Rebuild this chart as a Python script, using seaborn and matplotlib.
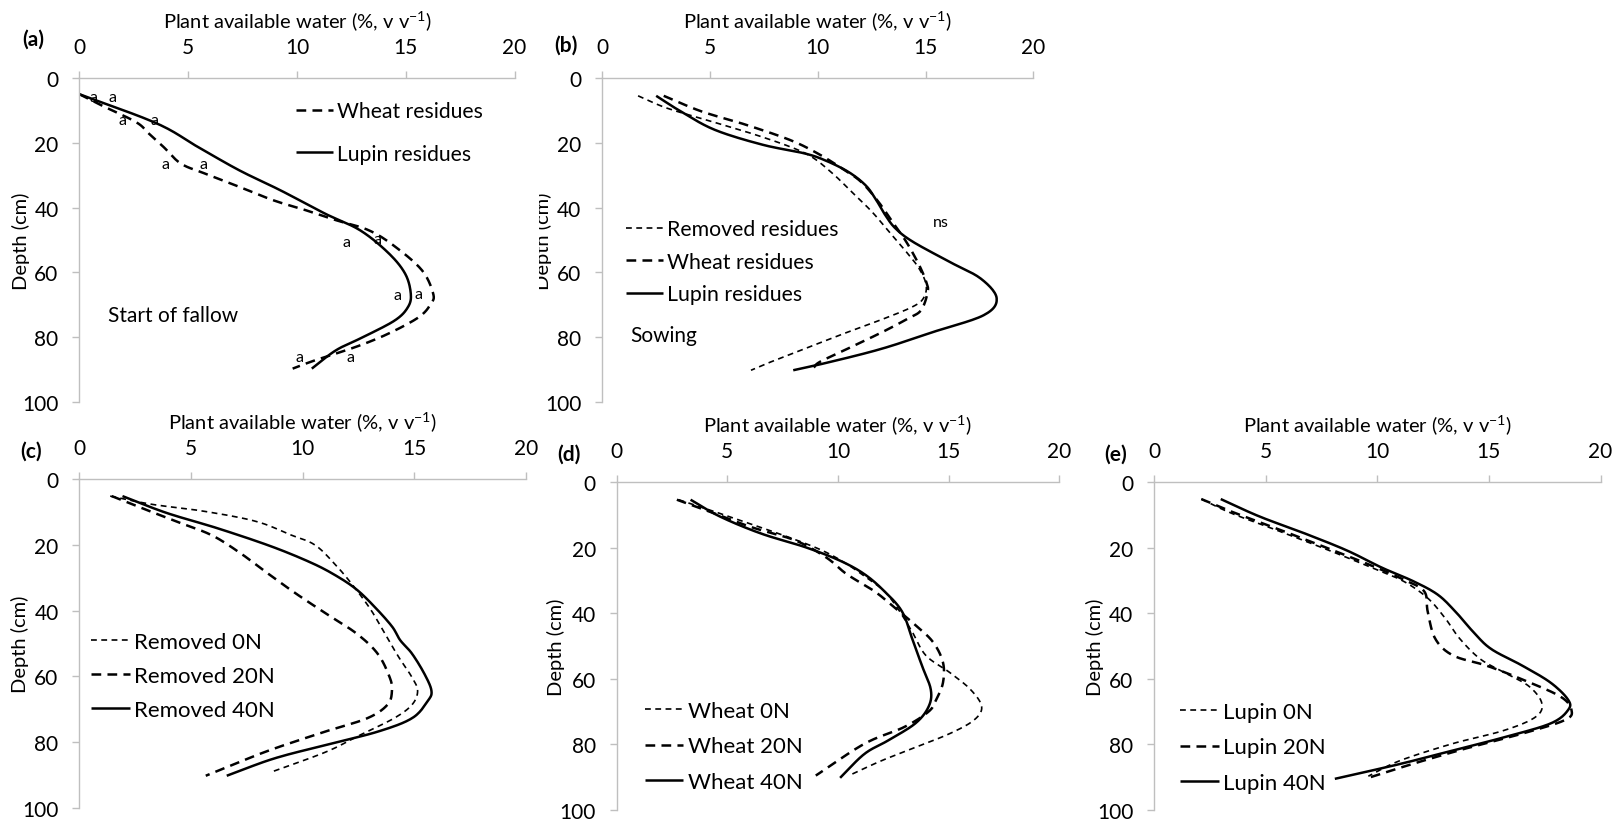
import numpy as np
import matplotlib
matplotlib.use("Agg")
import matplotlib.pyplot as plt
from matplotlib.transforms import Bbox
import seaborn as sns

# ---------------------------------------------------------------------------
# Plant available water (%, v/v) by soil depth (cm)
# ---------------------------------------------------------------------------

# (a) Start of fallow
a_wheat_depth = [5, 8.4, 13.6, 17.2, 21.3, 26.4, 29.5, 33.6, 37.8, 40.8, 43.9, 47, 52, 59.4, 66.6, 69.7, 73.8, 78.9, 83, 87.1, 89.7]
a_wheat_paw = [0.0, 1.0, 2.6, 3.2, 3.87, 4.66, 5.77, 7.35, 8.94, 10.4, 11.8, 13.3, 14.5, 15.75, 16.26, 16.15, 15.6, 14.2, 12.7, 10.84, 9.8]
a_lupin_depth = [5, 14, 21.3, 28.5, 34.7, 41.9, 47, 54, 60.4, 66.6, 70.7, 74.8, 79.9, 84, 89.7]
a_lupin_paw = [0.0, 3.55, 5.45, 7.35, 9.25, 11.3, 12.9, 14.2, 14.97, 15.23, 15.1, 14.5, 13.06, 11.8, 10.68]
a_sig_labels = ["a"] * 12
a_sig_paw = [0.67, 1.52, 2.0, 3.47, 3.95, 5.69, 12.27, 13.7, 14.6, 15.6, 10.1, 12.45]
a_sig_depth = [5.9, 5.9, 13, 13, 26.4, 26.4, 50.6, 49.6, 67, 66.6, 86, 86]

# (b) Sowing
b_removed_depth = [5.5, 9.3, 13.4, 17.5, 21.6, 24.7, 29.9, 35, 41.2, 47.4, 53.6, 58.8, 63.9, 68, 70.6, 74.2, 78.4, 82.5, 86.6, 90.2]
b_removed_paw = [1.66, 3.0, 5.06, 7.1, 8.86, 9.8, 10.76, 11.55, 12.5, 13.3, 14.1, 14.7, 15.03, 14.9, 14.4, 13.1, 11.4, 9.8, 8.2, 6.9]
b_wheat_depth = [5.5, 10.3, 14.4, 19.1, 23.2, 27.8, 32, 38.1, 44.3, 50.5, 57.7, 62.9, 66, 71.6, 74.2, 78.4, 83.5, 87.6, 89.5]
b_wheat_paw = [2.85, 4.6, 6.65, 8.7, 9.97, 11.1, 12.0, 12.8, 13.45, 14.1, 14.7, 15.03, 15.1, 14.8, 14.2, 13.0, 11.4, 10.1, 9.8]
b_lupin_depth = [5.5, 10.3, 16, 20.6, 23.2, 25.3, 28.9, 33, 37.1, 42.3, 46.4, 50.5, 56.7, 61.9, 68, 73.2, 78.4, 83.5, 87.6, 90.2]
b_lupin_paw = [2.5, 3.64, 5.22, 7.44, 9.34, 10.3, 11.4, 12.2, 12.66, 13.13, 13.6, 14.4, 16.1, 17.56, 18.3, 17.7, 15.35, 13.0, 10.6, 8.86]

# (c) Removed residues, three N rates
c_0n_depth = [5.2, 7.7, 9.8, 12.9, 17, 20.1, 26.3, 32.5, 39.7, 46.9, 54.1, 60.3, 64.4, 68.6, 72.7, 77.8, 83, 89.2]
c_0n_paw = [1.38, 3.25, 5.58, 7.92, 9.47, 10.56, 11.5, 12.27, 13.05, 13.67, 14.3, 14.9, 15.15, 14.9, 14.1, 12.58, 11.03, 8.54]
c_20n_depth = [5.2, 8.8, 12.9, 17, 22.2, 28.4, 34.5, 40.7, 46.9, 53.1, 60.3, 64.4, 68.6, 72.7, 76.8, 82, 86.1, 90.2]
c_20n_paw = [1.45, 2.78, 4.34, 5.9, 7.14, 8.38, 9.63, 11.0, 12.4, 13.36, 13.9, 14.0, 13.8, 12.9, 11.0, 8.7, 7.14, 5.66]
c_40n_depth = [5.2, 10.3, 15, 20.5, 25.5, 29.4, 33.5, 38.7, 44.8, 49, 53.1, 59.3, 64.4, 67.5, 72.7, 76.8, 80.9, 85, 90.2]
c_40n_paw = [1.93, 3.9, 6.2, 8.6, 10.4, 11.5, 12.4, 13.2, 14.0, 14.37, 14.9, 15.46, 15.77, 15.6, 14.9, 13.36, 11.0, 8.7, 6.6]

# (d) Wheat residues, three N rates
d_0n_depth = [5.4, 8.5, 12.1, 16.8, 20.9, 25, 29.2, 33.3, 38.5, 45.7, 52.9, 58.1, 63.3, 68.5, 72.6, 76.7, 80.9, 85, 89.5]
d_0n_paw = [2.8, 4.19, 5.75, 7.76, 9.3, 10.4, 11.3, 12.1, 12.7, 13.36, 13.98, 15.06, 16.0, 16.5, 16.15, 15.06, 13.5, 11.96, 10.5]
d_20n_depth = [5.4, 9, 13.7, 17.8, 23, 28.1, 33.3, 38.5, 43.6, 48.8, 55, 61.2, 66.4, 70, 74.7, 79.8, 89.5]
d_20n_paw = [2.72, 4.19, 6.06, 8.07, 9.47, 10.4, 11.65, 12.6, 13.5, 14.3, 14.75, 14.75, 14.44, 14.1, 13.0, 11.2, 9.0]
d_40n_depth = [5.4, 10.5, 15.7, 19.9, 24, 28.1, 33.3, 39.5, 47.8, 56, 63.3, 68.5, 73.6, 78.8, 82.9, 90.2]
d_40n_paw = [3.34, 4.66, 6.52, 8.54, 10.1, 11.2, 12.1, 12.9, 13.36, 13.8, 14.2, 14.1, 13.5, 12.27, 11.2, 10.1]

# (e) Lupin residues, three N rates
e_0n_depth = [5.2, 9.5, 14.7, 20.9, 26.1, 30.2, 35.4, 41.6, 47.8, 54, 58.1, 62.3, 67.4, 71.6, 75.7, 79.8, 85, 89.7]
e_0n_paw = [2.12, 3.46, 5.5, 7.86, 9.75, 11.16, 12.26, 13.05, 13.7, 14.62, 15.7, 16.8, 17.37, 17.1, 15.7, 13.36, 11.0, 9.6]
e_20n_depth = [5.2, 9, 14.2, 20.4, 25.5, 29.7, 33.3, 39.5, 47.8, 52.9, 56, 60.2, 65.4, 69.5, 72.6, 76.7, 80.9, 85.5, 90.2]
e_20n_paw = [2.12, 3.46, 5.5, 7.86, 9.75, 11.16, 12.1, 12.26, 12.6, 13.4, 14.9, 16.5, 18.2, 18.7, 18.4, 16.5, 14.15, 11.8, 9.6]
e_40n_depth = [5.2, 10.5, 15.7, 20.9, 26.1, 30.2, 34.3, 39.5, 45.7, 50.9, 56, 61.2, 66.4, 69.5, 73.6, 77.8, 81.9, 86, 90.5]
e_40n_paw = [2.99, 4.72, 6.76, 8.65, 10.2, 11.6, 12.7, 13.5, 14.3, 15.1, 16.5, 17.77, 18.55, 18.55, 17.77, 15.7, 13.36, 11.0, 8.1]

x_ticks = [0, 5, 10, 15, 20]
y_ticks = [0, 20, 40, 60, 80, 100]
x_title = r"Plant available water (%, v v$^{-1}$)"
y_title = "Depth (cm)"

# ---------------------------------------------------------------------------
sns.set_theme(style="white")
plt.rcParams["font.family"] = ["Lato", "DejaVu Sans"]
plt.rcParams["mathtext.fontset"] = "custom"
plt.rcParams["mathtext.rm"] = "Lato"
plt.rcParams["mathtext.default"] = "regular"
plt.rcParams["lines.scale_dashes"] = False

AXIS_GREY = "#bfbfbf"
STYLES = {
    "solid": dict(lw=1.8, dashes=None),
    "long": dict(lw=1.8, dashes=(7.0, 4.5)),
    "short": dict(lw=1.2, dashes=(4.2, 3.2)),
}


def smooth_path(paw, depth, steps=14):
    """Catmull-Rom spline through the measured points (smoothed line)."""
    pts = np.column_stack([paw, depth]).astype(float)
    p = np.vstack([2 * pts[0] - pts[1], pts, 2 * pts[-1] - pts[-2]])
    t = np.linspace(0, 1, steps, endpoint=False)[:, None]
    segs = []
    for i in range(1, len(p) - 2):
        p0, p1, p2, p3 = p[i - 1], p[i], p[i + 1], p[i + 2]
        segs.append(0.5 * (2 * p1 + (-p0 + p2) * t
                           + (2 * p0 - 5 * p1 + 4 * p2 - p3) * t ** 2
                           + (-p0 + 3 * p1 - 3 * p2 + p3) * t ** 3))
    segs.append(pts[-1:])
    out = np.vstack(segs)
    return out[:, 0], out[:, 1]


def draw_profile(ax, paw, depth, style, label):
    xs, ys = smooth_path(paw, depth)
    sns.lineplot(x=xs, y=ys, ax=ax, sort=False, estimator=None,
                 color="black", linewidth=STYLES[style]["lw"])
    line = ax.lines[-1]
    if STYLES[style]["dashes"] is not None:
        line.set_dashes(STYLES[style]["dashes"])
    line.set_label(label)
    line.set_solid_capstyle("butt")
    line.set_dash_capstyle("butt")
    return line


def style_axes(ax, ylabel_x):
    ax.set_xlim(0, 20)
    ax.set_ylim(100, 0)
    ax.set_xticks(x_ticks)
    ax.set_yticks(y_ticks)
    ax.xaxis.tick_top()
    ax.xaxis.set_label_position("top")
    for side in ("right", "bottom"):
        ax.spines[side].set_visible(False)
    for side in ("left", "top"):
        ax.spines[side].set_color(AXIS_GREY)
        ax.spines[side].set_linewidth(1.0)
    ax.tick_params(axis="both", which="both", direction="out", length=5,
                   width=1.0, color=AXIS_GREY, labelsize=15, labelcolor="black")
    ax.tick_params(axis="x", pad=10, top=True, bottom=False)
    ax.tick_params(axis="y", pad=10, left=True)
    ax.set_xlabel(x_title, fontsize=14.5, labelpad=7, color="black")
    ax.set_ylabel(y_title, fontsize=14.5, color="black")
    ax.yaxis.label.set_va("center")
    ax.yaxis.set_label_coords(ylabel_x, 0.5)
    ax.grid(False)
    ax.set_facecolor("white")


fig = plt.figure(figsize=(16.17, 8.2), dpi=100)
W, H = 1617, 820


def add_axes(left, right, top, bottom):
    return fig.add_axes([left / W, 1 - bottom / H, (right - left) / W, (bottom - top) / H])


ax_a = add_axes(79.4, 514.6, 79, 403)
ax_b = add_axes(602.3, 1033.3, 79, 403)
ax_c = add_axes(79.4, 525.9, 480, 809)
ax_d = add_axes(616.7, 1059.1, 483, 811)
ax_e = add_axes(1154, 1600.5, 483, 811)

for ax, ylx in ((ax_a, -0.135), (ax_b, -0.137), (ax_c, -0.132),
                (ax_d, -0.138), (ax_e, -0.133)):
    style_axes(ax, ylx)

# the Depth title of (b) is trimmed on its left by panel (a)
ax_b.yaxis.label.set_clip_on(True)
ax_b.yaxis.label.set_clip_box(Bbox.from_extents(539, 0, W, H))


def add_legend(ax, handles, x, top, size, spacing):
    leg = ax.legend(handles=handles, loc="upper left", bbox_to_anchor=(x, top),
                    frameon=False, fontsize=size, handlelength=1.75,
                    handletextpad=0.2, labelspacing=spacing, borderpad=0,
                    borderaxespad=0)
    for txt in leg.get_texts():
        txt.set_color("black")
    return leg


# (a)
h1 = draw_profile(ax_a, a_wheat_paw, a_wheat_depth, "long", "Wheat residues")
h2 = draw_profile(ax_a, a_lupin_paw, a_lupin_depth, "solid", "Lupin residues")
add_legend(ax_a, [h1, h2], 0.498, 0.928, 15.2, 1.06)
for lab, xv, yv in zip(a_sig_labels, a_sig_paw, a_sig_depth):
    ax_a.text(xv, yv, lab, fontsize=11.5, ha="center", va="center", color="black")
ax_a.text(1.33, 73.1, "Start of fallow", fontsize=15, ha="left", va="center", color="black")

# (b)
h1 = draw_profile(ax_b, b_removed_paw, b_removed_depth, "short", "Removed residues")
h2 = draw_profile(ax_b, b_wheat_paw, b_wheat_depth, "long", "Wheat residues")
h3 = draw_profile(ax_b, b_lupin_paw, b_lupin_depth, "solid", "Lupin residues")
add_legend(ax_b, [h1, h2, h3], 0.055, 0.564, 15.3, 0.59)
ax_b.text(15.7, 44.3, "ns", fontsize=11.5, ha="center", va="center", color="black")
ax_b.text(1.29, 79.2, "Sowing", fontsize=15, ha="left", va="center", color="black")

# (c)
h1 = draw_profile(ax_c, c_0n_paw, c_0n_depth, "short", "Removed 0N")
h2 = draw_profile(ax_c, c_20n_paw, c_20n_depth, "long", "Removed 20N")
h3 = draw_profile(ax_c, c_40n_paw, c_40n_depth, "solid", "Removed 40N")
add_legend(ax_c, [h1, h2, h3], 0.026, 0.535, 16, 0.63)

# (d)
h1 = draw_profile(ax_d, d_0n_paw, d_0n_depth, "short", "Wheat 0N")
h2 = draw_profile(ax_d, d_20n_paw, d_20n_depth, "long", "Wheat 20N")
h3 = draw_profile(ax_d, d_40n_paw, d_40n_depth, "solid", "Wheat 40N")
add_legend(ax_d, [h1, h2, h3], 0.063, 0.333, 16, 0.70)

# (e)
h1 = draw_profile(ax_e, e_0n_paw, e_0n_depth, "short", "Lupin 0N")
h2 = draw_profile(ax_e, e_20n_paw, e_20n_depth, "long", "Lupin 20N")
h3 = draw_profile(ax_e, e_40n_paw, e_40n_depth, "solid", "Lupin 40N")
add_legend(ax_e, [h1, h2, h3], 0.058, 0.33, 16, 0.70)

# Panel letters
for lab, px, py in [("(a)", 33, 40), ("(b)", 566, 46), ("(c)", 31, 452),
                    ("(d)", 569, 455), ("(e)", 1116, 455)]:
    fig.text(px / W, 1 - py / H, lab, fontsize=15, fontweight="bold",
             ha="center", va="center", color="black")

fig.savefig("out.png", dpi=100, facecolor="white")
